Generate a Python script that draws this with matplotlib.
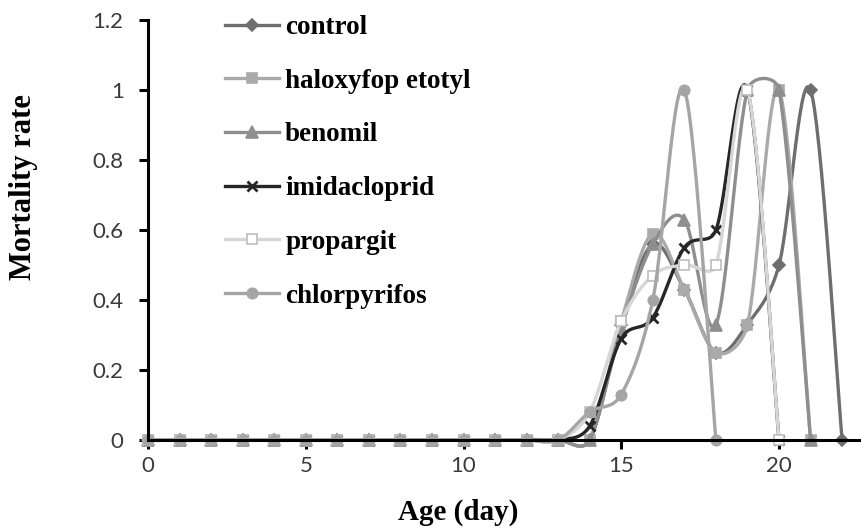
import numpy as np
import matplotlib
matplotlib.use("Agg")
import matplotlib.pyplot as plt
from matplotlib.lines import Line2D

# data
days = list(range(0, 23))
zeros = [0.0] * 14  # days 0..13

control = zeros + [0.0, 0.33, 0.56, 0.43, 0.25, 0.33, 0.50, 1.00, 0.0]
haloxyfop = zeros + [0.0, 0.34, 0.59, 0.43, 0.25, 0.33, 1.00, 0.0]
benomil = zeros + [0.0, 0.32, 0.56, 0.63, 0.33, 1.00, 1.00, 0.0]
imidacloprid = zeros + [0.04, 0.29, 0.35, 0.55, 0.60, 1.00, 0.0]
propargit = zeros + [0.08, 0.34, 0.47, 0.50, 0.50, 1.00, 0.0]
chlorpyrifos = zeros + [0.08, 0.13, 0.40, 1.00, 0.0]

series = [
    ("control", control, "#6e6e6e", "D", "#6e6e6e", 6),
    ("haloxyfop etotyl", haloxyfop, "#aaaaaa", "s", "#aaaaaa", 7.5),
    ("benomil", benomil, "#8e8e8e", "^", "#8e8e8e", 8),
    ("imidacloprid", imidacloprid, "#262626", "x", "#262626", 7),
    ("propargit", propargit, "#d6d6d6", "s", "white", 7.5),
    ("chlorpyrifos", chlorpyrifos, "#a5a5a5", "o", "#a5a5a5", 7.5),
]

XPX, YPX = 31.55, 350.0  # pixels per data unit, used for the smoothing only


def smooth(x, y, n=30):
    # Excel-like smoothed line: Bezier segments, tangent from neighbours,
    # control arm clamped to half the segment length (in screen space)
    p = np.column_stack([np.asarray(x, float) * XPX, np.asarray(y, float) * YPX])
    m = len(p)
    tang = np.zeros_like(p)
    for i in range(m):
        a = p[max(i - 1, 0)]
        b = p[min(i + 1, m - 1)]
        tang[i] = b - a
    t = np.linspace(0, 1, n)[:, None]
    out = []
    for i in range(m - 1):
        p0, p3 = p[i], p[i + 1]
        seg = np.hypot(*(p3 - p0))
        arm0 = tang[i] / 6
        arm1 = tang[i + 1] / 6
        l0, l1 = np.hypot(*arm0), np.hypot(*arm1)
        if l0 > seg / 2:
            arm0 = arm0 * (seg / 2) / l0
        if l1 > seg / 2:
            arm1 = arm1 * (seg / 2) / l1
        p1, p2 = p0 + arm0, p3 - arm1
        b = (1 - t) ** 3 * p0 + 3 * (1 - t) ** 2 * t * p1 + 3 * (1 - t) * t ** 2 * p2 + t ** 3 * p3
        out.append(b)
    out = np.vstack(out)
    return out[:, 0] / XPX, out[:, 1] / YPX


fig = plt.figure(figsize=(8.62, 5.28), dpi=100)
ax = fig.add_axes([148 / 862, 88 / 528, 1 - 148 / 862, 420 / 528])

handles = []
for name, vals, col, mk, face, ms in series:
    x = days[:len(vals)]
    sx, sy = smooth(x, vals)
    ax.plot(sx, sy, color=col, lw=2.4, solid_capstyle="round", clip_on=False)
    edge = "#bdbdbd" if face == "white" else col
    mew = 2 if mk == "x" else 1.2
    ax.plot(x, vals, ls="none", marker=mk, ms=ms, mfc=face, mec=edge, mew=mew, clip_on=False)
    handles.append(Line2D([], [], color=col, lw=2.4, marker=mk, ms=ms,
                          mfc=face, mec=edge, mew=mew))

ax.set_xlim(0, 22.63)
ax.set_ylim(0, 1.2)
ax.set_xticks([0, 5, 10, 15, 20])
ax.set_yticks([0, 0.2, 0.4, 0.6, 0.8, 1.0, 1.2])
ax.set_yticklabels(["0", "0.2", "0.4", "0.6", "0.8", "1", "1.2"])

for s in ["top", "right"]:
    ax.spines[s].set_visible(False)
for s in ["left", "bottom"]:
    ax.spines[s].set_linewidth(2.2)
    ax.spines[s].set_color("black")
ax.tick_params(direction="out", length=6.5, width=2.2, colors="black",
               labelcolor="#3a3a3a", labelsize=16)
ax.tick_params(axis="y", pad=11)
ax.tick_params(axis="x", pad=5)
for lab in ax.get_xticklabels() + ax.get_yticklabels():
    lab.set_family("Lato")

ax.set_xlabel("Age (day)", family="Liberation Serif", fontweight="bold", fontsize=21)
ax.set_ylabel("Mortality rate", family="Liberation Serif", fontweight="bold", fontsize=22)
ax.xaxis.set_label_coords(310 / 714, -72 / 420)
ax.yaxis.set_label_coords(-124 / 714, 253 / 420)
ax.xaxis.label.set_va("center")
ax.yaxis.label.set_va("center")

ax.legend(handles, [s[0] for s in series], loc="upper left",
          bbox_to_anchor=(225 / 862, 1 - 15 / 528), bbox_transform=fig.transFigure,
          frameon=False, borderpad=0, borderaxespad=0,
          prop={"family": "Liberation Serif", "weight": "bold", "size": 19.5},
          handlelength=2.0, handletextpad=0.22, labelspacing=1.06)

fig.savefig("out.png", dpi=100)
